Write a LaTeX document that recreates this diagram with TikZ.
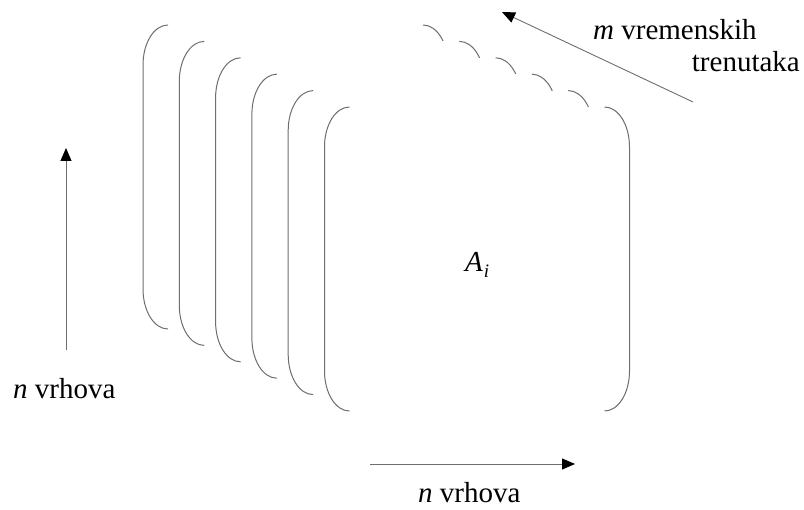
\documentclass[tikz,border=0pt]{standalone}
\usepackage{fontspec}
\setmainfont{Liberation Serif}
\usetikzlibrary{arrows.meta}
\definecolor{linegray}{HTML}{6e6e6e}
\def\nplanes{5}
\def\pw{305}
\def\ph{304}
\newcommand{\drawplane}[2]{
  \fill[white] (#1, #2) rectangle (#1 + \pw, #2 + \ph);
  \draw[bracket] (#1 + 25, #2) .. controls (#1 + 11, #2) and (#1, #2 + 18) .. (#1, #2 + 40)
    -- (#1, #2 + \ph - 40) .. controls (#1, #2 + \ph - 18) and (#1 + 11, #2 + \ph) .. (#1 + 25, #2 + \ph);
  \draw[bracket] (#1 + \pw - 25, #2) .. controls (#1 + \pw - 11, #2) and (#1 + \pw, #2 + 18) .. (#1 + \pw, #2 + 40)
    -- (#1 + \pw, #2 + \ph - 40) .. controls (#1 + \pw, #2 + \ph - 18) and (#1 + \pw - 11, #2 + \ph) .. (#1 + \pw - 25, #2 + \ph);
}

\begin{document}
\begin{tikzpicture}[x=1pt, y=-1pt,
    font=\fontsize{29}{34}\selectfont,
    bracket/.style={linegray, line width=1pt},
    arr/.style={linegray, line width=0.9pt, -{Triangle[length=13pt, width=11pt, black]}},
    lbl/.style={inner sep=0pt}]
    \useasboundingbox (0,0) rectangle (804,510);
    \foreach \i in {0, ..., \nplanes} {
      \pgfmathsetmacro{\lx}{143 + 36.3*\i}
      \pgfmathsetmacro{\ty}{25 + 16.4*\i}
      \drawplane{\lx}{\ty}
    }
    \node[lbl, anchor=base west] (matrix) at (465, 272) {\textit{A\kern1pt\raisebox{-6pt}{\fontsize{19}{20}\selectfont i}}};
    % arrows
    \coordinate (rowstail) at (66, 350);
    \coordinate (rowstip) at (66, 148);
    \coordinate (colstail) at (370, 464);
    \coordinate (colstip) at (575, 464);
    \coordinate (timetail) at (693, 102);
    \coordinate (timetip) at (502, 12);
    \draw[arr] (rowstail) -- (rowstip);
    \draw[arr] (colstail) -- (colstip);
    \draw[arr] (timetail) -- (timetip);
    % labels
    \node[lbl, anchor=base west] (rows) at (13, 399) {\textit{n} vrhova};
    \node[lbl, anchor=base west] (cols) at (418, 503) {\textit{n} vrhova};
    \node[lbl, anchor=base west] (time1) at (593, 40) {\textit{m} vremenskih};
    \node[lbl, anchor=base east] (time2) at (800, 72) {trenutaka};
\end{tikzpicture}
\end{document}
